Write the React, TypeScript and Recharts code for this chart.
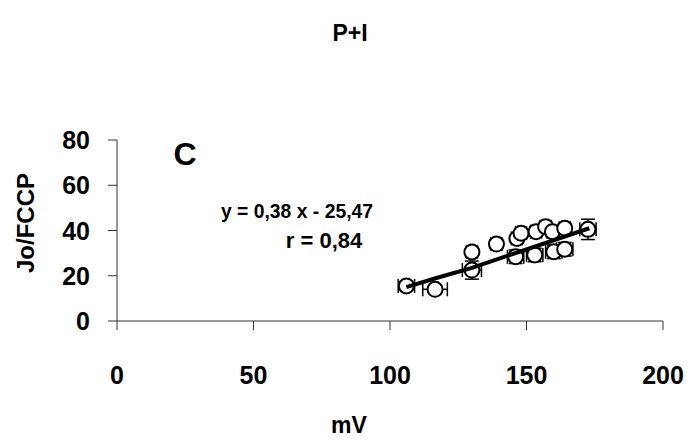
import React from 'react';
import { ScatterChart, Scatter, XAxis, YAxis, ErrorBar } from 'recharts';

// values
const mv = [106, 116.5, 130, 130, 139, 146, 146.5, 148, 153.5, 153, 157, 159.5, 160, 164, 164, 172.5];
const jo = [15.5, 14, 30.5, 22.5, 34, 28.4, 36.5, 38.8, 39.5, 29.2, 41.7, 39.5, 30.6, 41, 31.7, 40.5];
const mvErr = [3, 4.5, 2, 3.5, 2, 3, 2, 2, 2, 3, 2, 2, 3, 2, 3, 3];
const joErr = [2, 1, 2, 4, 2, 3, 2, 2, 2, 3, 2, 2, 3, 2, 3, 4.5];

// fitted trend line, as drawn
const trendMv = [106, 117, 130, 173];
const trendJo = [15, 19, 23.5, 41];

const xTicks = [0, 50, 100, 150, 200];
const yTicks = [0, 20, 40, 60, 80];

const points = mv.map((x, i) => ({ x, y: jo[i], ex: mvErr[i], ey: joErr[i] }));
const trend = trendMv.map((x, i) => ({ x, y: trendJo[i] }));

const font = '"Liberation Sans", Arial, Helvetica, sans-serif';

const XTick = ({ x, y, payload }: any) => (
  <text x={x} y={y + 45} textAnchor="middle" dominantBaseline="central"
    style={{ fontFamily: font, fontWeight: 700, fontSize: 25, fill: '#000' }}>
    {payload.value}
  </text>
);

const YTick = ({ x, y, payload }: any) => (
  <text x={x - 18} y={y} textAnchor="end" dominantBaseline="central"
    style={{ fontFamily: font, fontWeight: 700, fontSize: 25, fill: '#000' }}>
    {payload.value}
  </text>
);

const Dot = ({ cx, cy }: any) => (
  <circle cx={cx} cy={cy} r={7.5} fill="#fff" stroke="#000" strokeWidth={2} />
);

const text = (extra: React.CSSProperties): React.CSSProperties => ({
  position: 'absolute',
  fontFamily: font,
  fontWeight: 700,
  color: '#000',
  whiteSpace: 'nowrap',
  transform: 'translate(-50%, -50%)',
  lineHeight: 1,
  ...extra,
});

export default function App() {
  return (
    <div style={{ position: 'absolute', left: 0, top: 0, width: 693, height: 445, background: '#fff' }}>
      <ScatterChart width={693} height={445} margin={{ top: 140, right: 30, left: 0, bottom: 0 }}>
        <XAxis
          type="number"
          dataKey="x"
          domain={[0, 200]}
          ticks={xTicks}
          height={124}
          tickSize={9}
          tickMargin={0}
          stroke="#333"
          tick={<XTick />}
        />
        <YAxis
          type="number"
          dataKey="y"
          domain={[0, 80]}
          ticks={yTicks}
          width={117}
          tickSize={9}
          tickMargin={0}
          stroke="#333"
          tick={<YTick />}
        />
        <Scatter data={points} shape={<Dot />} isAnimationActive={false}>
          <ErrorBar dataKey="ex" direction="x" width={7} stroke="#000" strokeWidth={1.5} />
          <ErrorBar dataKey="ey" direction="y" width={7} stroke="#000" strokeWidth={1.5} />
        </Scatter>
        <Scatter
          data={trend}
          line={{ stroke: '#000', strokeWidth: 4 }}
          shape={() => null}
          isAnimationActive={false}
        />
      </ScatterChart>
      <div style={text({ left: 350, top: 33, fontSize: 23 })}>P+I</div>
      <div style={text({ left: 185, top: 154, fontSize: 32 })}>C</div>
      <div style={text({ left: 297, top: 210, fontSize: 21, transform: 'translate(-50%, -50%) scaleX(0.92)' })}>y = 0,38 x - 25,47</div>
      <div style={text({ left: 324, top: 241, fontSize: 22 })}>r = 0,84</div>
      <div style={text({ left: 349, top: 425, fontSize: 23 })}>mV</div>
      <div style={text({ left: 26, top: 223, fontSize: 24, transform: 'translate(-50%, -50%) rotate(-90deg)' })}>Jo/FCCP</div>
    </div>
  );
}
